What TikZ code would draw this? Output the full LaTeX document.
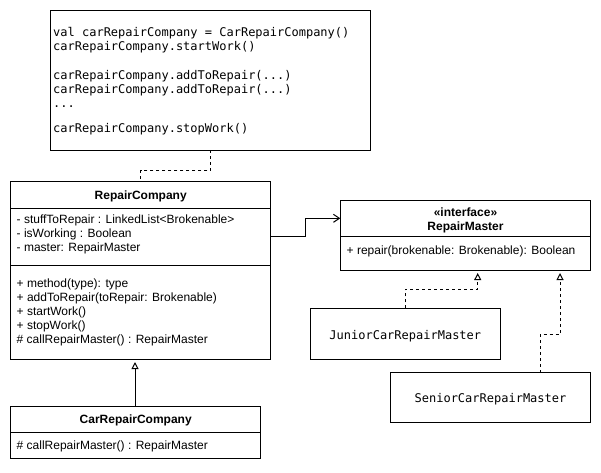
\documentclass[tikz,border=0pt]{standalone}
\usepackage{fontspec}
\setmainfont{Liberation Sans}
\newfontfamily\monof{DejaVu Sans Mono}
\usetikzlibrary{arrows.meta}
\begin{document}
\begin{tikzpicture}[x=1pt,y=-1pt,
  box/.style={draw,line width=1pt,inner sep=0pt,outer sep=0pt,anchor=north west},
  txt/.style={inner sep=0pt,anchor=west,yshift=-1.2pt,text height=9pt,text depth=3pt,font=\fontsize{12}{14}\selectfont},
  ctxt/.style={inner sep=0pt,anchor=center,yshift=-1.2pt,text height=9pt,text depth=3pt,font=\fontsize{12}{14}\selectfont},
  mono/.style={txt,font=\fontsize{12}{14}\selectfont\monof},
  cmono/.style={ctxt,font=\fontsize{12}{14}\selectfont\monof},
  sep/.style={line width=1pt},
  dep/.style={line width=1pt,dash pattern=on 3pt off 3pt},
  real/.style={dep,-{Triangle[open,length=7pt,width=7pt]},shorten >=3pt},
  gen/.style={line width=1pt,-{Triangle[open,length=7pt,width=7pt]},shorten >=3pt},
  assoc/.style={line width=1pt,-{Straight Barb[length=6pt,width=8pt]}}]
\useasboundingbox (0,0) rectangle (601,472);
% note
\node[box,minimum width=320pt,minimum height=139.3pt] (note) at (50.7,10.7) {};
\node[mono] (n1) at (53,32.3) {val carRepairCompany = CarRepairCompany()};
\node[mono] (n2) at (53,46.7) {carRepairCompany.startWork()};
\node[mono] (n3) at (53,75.5) {carRepairCompany.addToRepair(...)};
\node[mono] (n4) at (53,89.5) {carRepairCompany.addToRepair(...)};
\node[mono] (n5) at (53,103.5) {...};
\node[mono] (n6) at (53,128.3) {carRepairCompany.stopWork()};
% RepairCompany
\node[box,minimum width=260pt,minimum height=177.3pt] (rc) at (10.7,181.7) {};
\draw[sep] (rc.west |- 0,208.3) -- (rc.east |- 0,208.3);
\draw[sep] (rc.west |- 0,265) -- (rc.east |- 0,265);
\node[ctxt,font=\fontsize{12}{14}\selectfont\bfseries] (rct) at (140.7,195.5) {RepairCompany};
\node[txt] (a1) at (16.5,219.5) {- stuffToRepair : LinkedList<Brokenable>};
\node[txt] (a2) at (16.5,233.5) {- isWorking : Boolean};
\node[txt] (a3) at (16.5,247.5) {- master: RepairMaster};
\node[txt] (m1) at (16.5,283.3) {+ method(type): type};
\node[txt] (m2) at (16.5,297.3) {+ addToRepair(toRepair: Brokenable)};
\node[txt] (m3) at (16.5,311.3) {+ startWork()};
\node[txt] (m4) at (16.5,325.3) {+ stopWork()};
\node[txt] (m5) at (16.5,339.3) {\# callRepairMaster() : RepairMaster};
% CarRepairCompany
\node[box,minimum width=250pt,minimum height=51.6pt] (crc) at (10.7,406.7) {};
\draw[sep] (crc.west |- 0,432.7) -- (crc.east |- 0,432.7);
\node[ctxt,font=\fontsize{12}{14}\selectfont\bfseries] (crct) at (135.7,419.7) {CarRepairCompany};
\node[txt] (c1) at (16.5,445.5) {\# callRepairMaster() : RepairMaster};
% RepairMaster
\node[box,minimum width=250.5pt,minimum height=70pt] (rm) at (340.3,200) {};
\draw[sep] (rm.west |- 0,236.7) -- (rm.east |- 0,236.7);
\node[ctxt,font=\fontsize{12}{14}\selectfont\bfseries] (rmt1) at (465.5,212) {«interface»};
\node[ctxt,font=\fontsize{12}{14}\selectfont\bfseries] (rmt2) at (465.5,226) {RepairMaster};
\node[txt] (r1) at (346.5,250.3) {+ repair(brokenable: Brokenable): Boolean};
% Junior / Senior
\node[box,minimum width=190pt,minimum height=51pt] (jr) at (310.3,308.3) {};
\node[cmono] (jrt) at (405.3,335) {JuniorCarRepairMaster};
\node[box,minimum width=200.5pt,minimum height=49.7pt] (sr) at (390.3,372.7) {};
\node[cmono] (srt) at (490.5,398.5) {SeniorCarRepairMaster};
% coordinates
\coordinate (as) at (270.7,236.7);
\coordinate (ae) at (340.3,218.3);
\coordinate (jt) at (477.7,270);
\coordinate (st) at (560,270);
% connectors
\draw[dep] (note.south) -- ++(0,20.7) -| (rc.north);
\draw[assoc] (as) -| (305.7,227) |- (ae);
\draw[real] (jr.north) -- ++(0,-19.3) -| (jt);
\draw[real] (540,372.7) -- ++(0,-38.4) -| (st);
\draw[gen] (crc.north -| 135,0) -- (rc.south -| 135,0);
\end{tikzpicture}
\end{document}
